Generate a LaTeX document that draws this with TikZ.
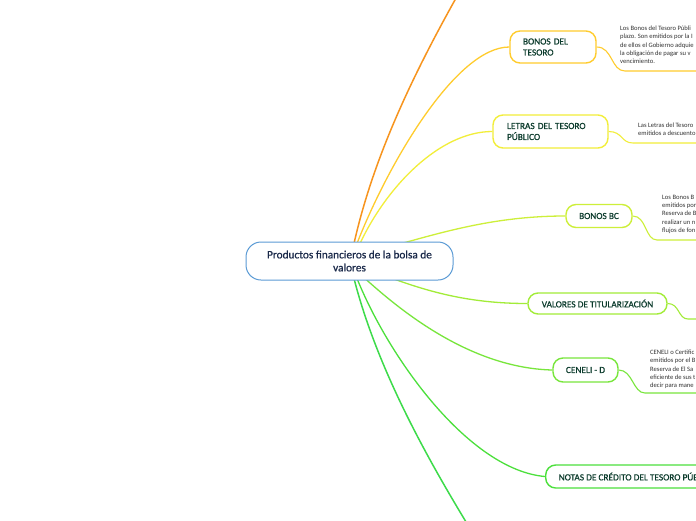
\documentclass[tikz,border=0pt]{standalone}
\usepackage{fontspec}
\setmainfont{Carlito}
\newfontfamily\medfont[FakeBold=0.7]{Carlito}
\usetikzlibrary{calc}
\pgfdeclarelayer{background}
\pgfsetlayers{background,main}
\definecolor{cOrange}{HTML}{F7941E}
\definecolor{cGold}{HTML}{FFCC2E}
\definecolor{cYellow}{HTML}{F2EE3A}
\definecolor{cLime}{HTML}{CDEF3A}
\definecolor{cGreenA}{HTML}{A2EC38}
\definecolor{cGreenB}{HTML}{78E63C}
\definecolor{cGreenC}{HTML}{4CE03C}
\definecolor{cGreenD}{HTML}{3DDB4A}
\definecolor{cBlue}{HTML}{5B9BD5}
\definecolor{cNavy}{HTML}{1B2A4A}
\definecolor{cDark}{HTML}{0B3B2C}
\definecolor{cDesc}{HTML}{333333}
\begin{document}
\begin{tikzpicture}[x=1pt,y=-1pt,
  topicbox/.style={draw, line width=1.4pt, rounded corners=10pt, fill=white,
    text=cDark, font=\medfont\fontsize{9.3}{11}\selectfont, align=left, inner ysep=0pt},
  centralbox/.style={draw=cBlue, line width=1pt, rounded corners=15pt, fill=white,
    text=cNavy, font=\medfont\fontsize{11.3}{13}\selectfont, align=center,
    minimum width=207pt, minimum height=38pt, inner sep=0pt},
  desc/.style={anchor=north west, inner sep=0pt, align=left, text=cDesc,
    font=\fontsize{6.6}{8.2}\selectfont},
  branch/.style={line width=1.3pt},
  sub/.style={line width=1.1pt}
]
\useasboundingbox (0,0) rectangle (696,520);
\clip (0,0) rectangle (696,520);

% central node
\node[centralbox] (c) at (349.5,261) {Productos financieros de la bolsa de\\valores};

% topic nodes
\node[topicbox, draw=cGold, text width=60pt, inner xsep=13pt, minimum height=32pt] (b1) at (553,47) {BONOS DEL\\TESORO};
\node[topicbox, draw=cYellow, text width=87pt, inner xsep=14pt, minimum height=33pt] (b2) at (550.5,131.5) {LETRAS DEL TESORO\\PÚBLICO};
\node[topicbox, draw=cLime, align=center, minimum width=66pt, minimum height=23pt] (b3) at (599,216) {BONOS BC};
\node[topicbox, draw=cGreenA, align=center, minimum width=139pt, minimum height=21pt] (b4) at (597.5,303.5) {VALORES DE TITULARIZACIÓN};
\node[topicbox, draw=cGreenB, align=center, minimum width=65pt, minimum height=24pt] (b5) at (585.5,370) {CENELI - D};
\node[topicbox, draw=cGreenC, anchor=west, inner xsep=13pt, minimum height=23pt] (b6) at (545,476.5) {NOTAS DE CRÉDITO DEL TESORO PÚBLICO};

% descriptions
\node[desc] (d1) at (620,26) {Los Bonos del Tesoro Públi\\plazo. Son emitidos por la I\\de ellos el Gobierno adquie\\la obligación de pagar su v\\vencimiento.};
\node[desc] (d2) at (638,123) {Las Letras del Tesoro\\emitidos a descuento};
\node[desc] (d3) at (662,195) {Los Bonos B\\emitidos por\\Reserva de B\\realizar un n\\flujos de fon};
\node[desc] (d5) at (650,350) {CENELI o Certific\\emitidos por el B\\Reserva de El Sa\\eficiente de sus t\\decir para mane};

% free ends
\coordinate (topend) at (472,-30);
\coordinate (botend) at (482,548);
\coordinate (u1) at (625,71);   \coordinate (u1e) at (700,71);
\coordinate (u2) at (633,143);  \coordinate (u2e) at (700,143);
\coordinate (u3) at (657,240);  \coordinate (u3e) at (700,240);
\coordinate (u4) at (688,319);  \coordinate (u4e) at (700,319);
\coordinate (u5) at (645,393);  \coordinate (u5e) at (700,393);

\begin{pgfonlayer}{background}
\fill[white] (0,0) rectangle (696,520);
% branches from central node
\draw[branch, cOrange, line width=1.5pt] ($(c.north)+(4.5,2)$) .. controls (375,150) and (420,60) .. (topend);
\draw[branch, cGold] ($(c.north)+(7.5,2)$) .. controls (388,164) and (456,47) .. (b1.west);
\draw[branch, cYellow] ($(c.north)+(10.5,2)$) .. controls (387,186) and (440,131.5) .. (b2.west);
\draw[branch, cLime] ($(c.north)+(52,2)$) .. controls (450,230) and (500,216) .. (b3.west);
\draw[branch, cGreenA] ($(c.south)+(43,-2)$) .. controls (430,292) and (470,303.5) .. (b4.west);
\draw[branch, cGreenB] ($(c.south)+(15.5,-2)$) .. controls (400,310) and (470,368) .. (b5.west);
\draw[branch, cGreenC] ($(c.south)+(7.5,-2)$) .. controls (390,360) and (470,470) .. (b6.west);
\draw[branch, cGreenD, line width=1.5pt] ($(c.south)+(4.5,-2)$) .. controls (380,380) and (440,480) .. (botend);

% connectors to descriptions
\draw[sub, cGold] (b1.east) .. controls +(16,0) and +(-14,0) .. (u1) -- (u1e);
\draw[sub, cYellow] (b2.east) .. controls +(14,0) and +(-12,0) .. (u2) -- (u2e);
\draw[sub, cLime] (b3.east) .. controls +(14,0) and +(-12,0) .. (u3) -- (u3e);
\draw[sub, cGreenA] (b4.east) .. controls +(12,0) and +(-10,0) .. (u4) -- (u4e);
\draw[sub, cGreenB] (b5.east) .. controls +(14,0) and +(-12,0) .. (u5) -- (u5e);
\end{pgfonlayer}
\end{tikzpicture}
\end{document}
